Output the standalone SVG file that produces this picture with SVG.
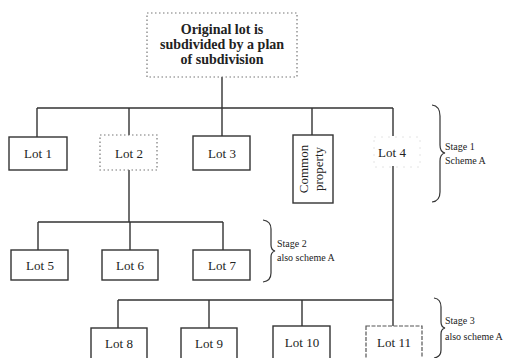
<svg xmlns="http://www.w3.org/2000/svg" width="518" height="358" viewBox="0 0 518 358">
<style>
.box{fill:#fff;stroke:#333;stroke-width:1.4}
.dot{fill:#fff;stroke:#777;stroke-width:1.2;stroke-dasharray:1.5 2.5}
.dash{fill:#fff;stroke:#555;stroke-width:1.2;stroke-dasharray:4 1.5}
.ln{fill:none;stroke:#333;stroke-width:1.4}
.br{fill:none;stroke:#333;stroke-width:1.2}
.lbl{font-family:"Liberation Serif",serif;font-size:13px;fill:#222;text-anchor:middle}
.ttl{font-family:"Liberation Serif",serif;font-size:14px;font-weight:bold;fill:#222;text-anchor:middle}
.stg{font-family:"Liberation Serif",serif;font-size:10px;fill:#222}
</style>
<rect width="518" height="358" fill="#fff"/>
<g id="connectors">
<path class="ln" d="M222 77V108M37 108H393M37 108V137M129 108V135M222 108V136M312 108V135"/>
<path class="ln" d="M393 108V136M393 166V299"/>
<path class="ln" d="M129 170V222M38 222H223M38 222V250M130 222V250M223 222V250"/>
<path class="ln" d="M118 300H393M118 300V328M209 300V328M302 300V326M393 299V326"/>
</g>
<g id="top">
<rect class="dot" x="147" y="13" width="150" height="64"/>
<text class="ttl" x="222" y="34">Original lot is</text>
<text class="ttl" x="222" y="49">subdivided by a plan</text>
<text class="ttl" x="222" y="64">of subdivision</text>
</g>
<g id="lot1"><rect class="box" x="9" y="137" width="58" height="33"/><text class="lbl" x="38" y="158">Lot 1</text></g>
<g id="lot2"><rect class="dot" x="100" y="135" width="57" height="35"/><text class="lbl" x="129" y="158">Lot 2</text></g>
<g id="lot3"><rect class="box" x="193" y="136" width="57" height="34"/><text class="lbl" x="222" y="158">Lot 3</text></g>
<g id="common"><rect class="box" x="293" y="135" width="40" height="68"/><text class="lbl" transform="translate(308 169) rotate(-90)">Common</text><text class="lbl" transform="translate(323 169) rotate(-90)">property</text></g>
<g id="lot4"><rect x="374" y="137" width="46" height="30" fill="none" stroke="#e4e4e4" stroke-width="1" stroke-dasharray="2 5"/><text class="lbl" x="392" y="157">Lot 4</text></g>
<g id="lot5"><rect class="box" x="11" y="250" width="57" height="30"/><text class="lbl" x="40" y="270">Lot 5</text></g>
<g id="lot6"><rect class="box" x="102" y="250" width="56" height="30"/><text class="lbl" x="130" y="270">Lot 6</text></g>
<g id="lot7"><rect class="box" x="193" y="250" width="57" height="30"/><text class="lbl" x="222" y="270">Lot 7</text></g>
<g id="lot8"><rect class="box" x="91" y="328" width="56" height="32"/><text class="lbl" x="119" y="348">Lot 8</text></g>
<g id="lot9"><rect class="box" x="181" y="328" width="56" height="32"/><text class="lbl" x="209" y="348">Lot 9</text></g>
<g id="lot10"><rect class="box" x="273" y="326" width="57" height="34"/><text class="lbl" x="302" y="347">Lot 10</text></g>
<g id="lot11"><rect class="dash" x="366" y="326" width="56" height="34"/><text class="lbl" x="394" y="347">Lot 11</text></g>
<g id="stage1">
<path class="br" d="M432 105Q440 106 440 116V145Q440 152 445 153Q440 154 440 161V192Q440 201 432 202"/>
<text class="stg" x="445" y="150">Stage 1</text>
<text class="stg" x="445" y="164">Scheme A</text>
</g>
<g id="stage2">
<path class="br" d="M263 220Q271 221 271 229V245Q271 250 275 251Q271 252 271 257V273Q271 281 263 282"/>
<text class="stg" x="277" y="247">Stage 2</text>
<text class="stg" x="277" y="261">also scheme A</text>
</g>
<g id="stage3">
<path class="br" d="M434 298Q441 299 441 307V322Q441 327 445 328Q441 329 441 334V350Q441 357 434 358"/>
<text class="stg" x="445" y="324">Stage 3</text>
<text class="stg" x="445" y="340">also scheme A</text>
</g>
</svg>
